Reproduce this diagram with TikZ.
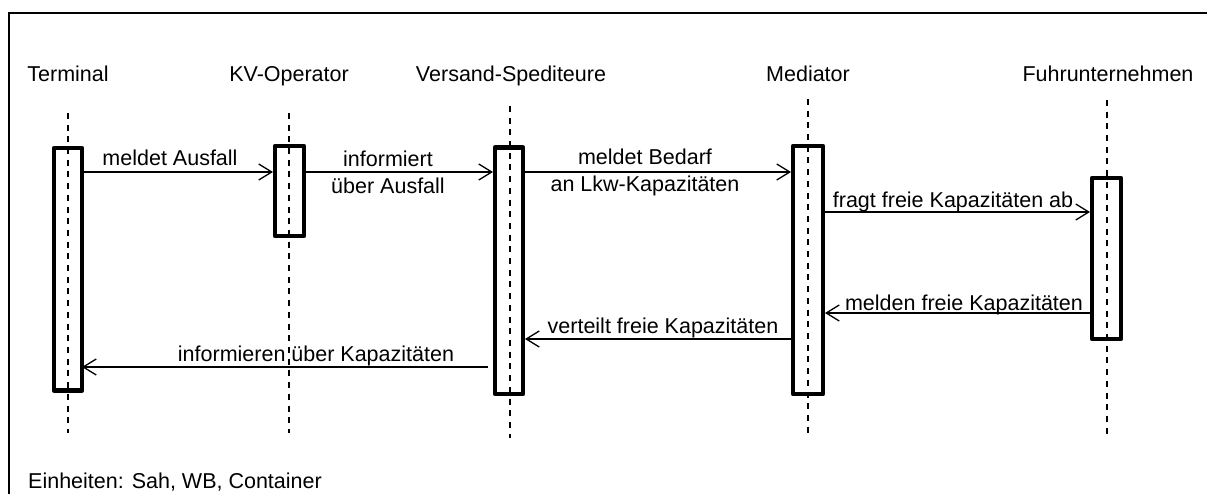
\documentclass[tikz,border=0pt]{standalone}
\usepackage{fontspec}
\setmainfont{Liberation Sans}
\usetikzlibrary{arrows.meta}
\begin{document}
\begin{tikzpicture}[x=1pt,y=-1pt,
  lifeline/.style={line width=1.3pt,dash pattern=on 6pt off 5.7pt},
  actbox/.style={line width=4.5pt,line join=round},
  msg/.style={line width=1.3pt,-{Straight Barb[length=13pt,width=16pt,line width=1.3pt]}},
  actor/.style={font=\fontsize{21.5}{25}\selectfont,anchor=base},
  lbl/.style={font=\fontsize{21.5}{25}\selectfont,anchor=base,inner sep=0pt},
  lbltwo/.style={font=\fontsize{21.5}{27}\selectfont,align=center,inner sep=0pt}]
\useasboundingbox (0,0) rectangle (1207,494);
% open frame (left and top edges)
\draw[line width=1.3pt] (9,500) -- (9,13) -- (1210,13);

% participants
\node[actor] (tTerm) at (68,82) {Terminal};
\node[actor] (tKV) at (289,82) {KV-Operator};
\node[actor] (tVS) at (511,82) {Versand-Spediteure};
\node[actor] (tMed) at (808,82) {Mediator};
\node[actor] (tFU) at (1108,82) {Fuhrunternehmen};

% activation bars
\draw[actbox] (54,148) rectangle (82,390.5);
\draw[actbox] (275,146) rectangle (304,236);
\draw[actbox] (495,147.5) rectangle (523,394);
\draw[actbox] (793,146) rectangle (823,394);
\draw[actbox] (1092,178) rectangle (1121,339);

% lifelines
\coordinate (lTerm1) at (68,113); \coordinate (lTerm2) at (68,433);
\coordinate (lKV1) at (289,113); \coordinate (lKV2) at (289,433);
\coordinate (lVS1) at (510,106); \coordinate (lVS2) at (510,438);
\coordinate (lMed1) at (808,99); \coordinate (lMed2) at (808,433);
\coordinate (lFU1) at (1107,100); \coordinate (lFU2) at (1107,437);
\draw[lifeline] (lTerm1) -- (lTerm2);
\draw[lifeline] (lKV1) -- (lKV2);
\draw[lifeline] (lVS1) -- (lVS2);
\draw[lifeline] (lMed1) -- (lMed2);
\draw[lifeline] (lFU1) -- (lFU2);

% message end points
\coordinate (m1a) at (80,172); \coordinate (m1b) at (273,172);
\coordinate (m2a) at (306,172); \coordinate (m2b) at (493,172);
\coordinate (m3a) at (525,172); \coordinate (m3b) at (791,172);
\coordinate (m4a) at (825,212); \coordinate (m4b) at (1090,212);
\coordinate (m5a) at (1090,313); \coordinate (m5b) at (825,313);
\coordinate (m6a) at (791,339); \coordinate (m6b) at (525,339);
\coordinate (m7a) at (488,367); \coordinate (m7b) at (82,367);

\draw[msg] (m1a) -- (m1b);
\draw[msg] (m2a) -- (m2b);
\draw[msg] (m3a) -- (m3b);
\draw[msg] (m4a) -- (m4b);
\draw[msg] (m5a) -- (m5b);
\draw[msg] (m6a) -- (m6b);
\draw[msg] (m7a) -- (m7b);

% message labels
\node[lbl] (l1) at (170,166) {meldet Ausfall};
\node[lbltwo] (l2) at (388,172.5) {informiert\\über Ausfall};
\node[lbltwo] (l3) at (645,172.5) {meldet Bedarf\\an Lkw-Kapazitäten};
\node[lbl] (l4) at (953,208) {fragt freie Kapazitäten ab};
\node[lbl] (l5) at (964,310) {melden freie Kapazitäten};
\node[lbl] (l6) at (663,333) {verteilt freie Kapazitäten};
\node[lbl] (l7) at (316,361) {informieren über Kapazitäten};

% footnote
\node[lbl,anchor=base west] (units) at (28,488) {Einheiten: Sah, WB, Container};
\end{tikzpicture}
\end{document}
